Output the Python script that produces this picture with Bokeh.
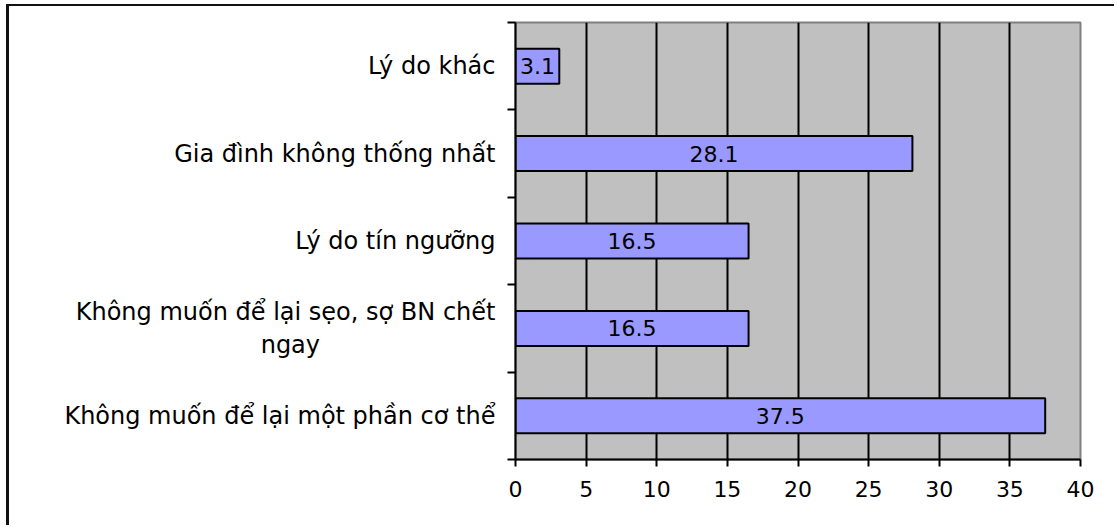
from bokeh.plotting import figure
from bokeh.models import FixedTicker, Range1d, ColumnDataSource
from bokeh.core.properties import value
from bokeh.embed import file_html
from bokeh.resources import INLINE

NB = "\u00a0"
categories = [
    "Không muốn để lại một phần cơ thể",
    "Không muốn để lại sẹo, sợ BN chết\nngay" + NB * 23,
    "Lý do tín ngưỡng",
    "Gia đình không thống nhất",
    "Lý do khác",
]
values = [37.5, 16.5, 16.5, 28.1, 3.1]
x_ticks = [0, 5, 10, 15, 20, 25, 30, 35, 40]

pos = [i + 0.5 for i in range(len(categories))]
src = ColumnDataSource(dict(
    y=pos, v=values, mid=[v / 2 for v in values],
    lab=[f"{v:.1f}" for v in values],
))

FONT = "DejaVu Sans"
FS = "22px"

p = figure(
    width=1108, height=521, output_backend="svg", toolbar_location=None,
    x_range=Range1d(0, 40), y_range=Range1d(0, len(categories)),
    min_border_left=506, min_border_top=16, min_border_right=37, min_border_bottom=68,
)
p.styles = {"border-top": "2px solid #111", "border-left": "3px solid #111",
            "margin-left": "6px", "margin-top": "4px"}
p.background_fill_color = "#C0C0C0"
p.border_fill_color = "white"
p.outline_line_color = "#808080"
p.outline_line_width = 2

p.hbar(y="y", right="v", left=0, height=0.4, source=src,
       fill_color="#9999FF", line_color="black", line_width=2)
p.text(x="mid", y="y", text="lab", source=src, text_align="center",
       text_baseline="middle", text_font=value(FONT), text_font_size=FS,
       text_color="black")

# x axis
p.xaxis.ticker = FixedTicker(ticks=x_ticks)
p.xaxis.axis_line_color = "black"
p.xaxis.axis_line_width = 2
p.xaxis.major_tick_line_color = "black"
p.xaxis.major_tick_line_width = 2
p.xaxis.major_tick_out = 7
p.xaxis.major_tick_in = 0
p.xaxis.minor_tick_line_color = None
p.xaxis.major_label_text_font = FONT
p.xaxis.major_label_text_font_size = FS
p.xaxis.major_label_text_color = "black"
p.xaxis.major_label_standoff = 14

# y axis: labels at centres, ticks at boundaries (minor)
p.yaxis.ticker = FixedTicker(ticks=pos, minor_ticks=list(range(len(categories) + 1)))
p.yaxis.major_label_overrides = {pp: c for pp, c in zip(pos, categories)}
p.yaxis.major_tick_line_color = None
p.yaxis.major_tick_out = 0
p.yaxis.major_tick_in = 0
p.yaxis.minor_tick_line_color = "black"
p.yaxis.minor_tick_line_width = 2
p.yaxis.minor_tick_out = 8
p.yaxis.minor_tick_in = 0
p.yaxis.axis_line_color = "black"
p.yaxis.axis_line_width = 2
p.yaxis.major_label_text_font = FONT
p.yaxis.major_label_text_font_size = "24px"
p.yaxis.major_label_text_color = "black"
p.yaxis.major_label_standoff = 12

p.xgrid.ticker = FixedTicker(ticks=x_ticks[1:-1])
p.xgrid.grid_line_color = "black"
p.xgrid.grid_line_width = 2
p.ygrid.grid_line_color = None

open("out.html", "w").write(file_html(p, INLINE))
